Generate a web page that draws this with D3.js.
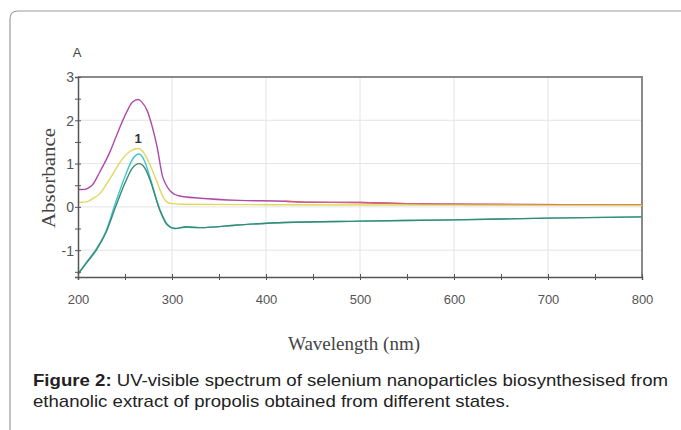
<!DOCTYPE html>
<html>
<head>
<meta charset="utf-8">
<script src="https://cdn.jsdelivr.net/npm/d3@7"></script>
<style>
  body { margin: 0; background: #fff; }
  svg { display: block; }
</style>
</head>
<body>
<svg id="chart" width="681" height="430"></svg>
<script>
// spectra: [wavelength nm, absorbance]
let magenta = [[200,0.4],[205,0.4],[215,0.5],[223,0.8],[234,1.27],[241,1.65],[252,2.2],[258,2.42],[264,2.48],
    [268,2.42],[274,2.2],[279,1.85],[284,1.4],[290,0.7],[294,0.5],[298,0.37],[308,0.25],[330,0.2],[372,0.15],
    [420,0.13],[440,0.11],[500,0.1],[560,0.07],[600,0.06],[800,0.05]];
let red = [[420,0.13],[440,0.11],[500,0.1],[560,0.07],[600,0.06],[800,0.05]];
let yellow = [[200,0.1],[210,0.12],[215,0.18],[223,0.3],[234,0.65],[245,1.04],[255,1.28],[264,1.35],[270,1.25],
    [277,0.95],[284,0.58],[290,0.25],[298,0.08],[310,0.06],[400,0.05],[600,0.04],[800,0.03]];
let cyan = [[200,-1.55],[210,-1.25],[220,-0.95],[230,-0.55],[240,0.1],[250,0.7],[258,1.1],[265,1.22],[271,1.05],
    [277,0.65],[287,-0.05],[295,-0.4],[303,-0.5],[315,-0.47],[330,-0.48],[370,-0.42],[420,-0.36],[500,-0.33],
    [600,-0.3],[700,-0.26],[800,-0.23]];
let green = [[200,-1.55],[210,-1.27],[220,-0.98],[230,-0.58],[240,0.0],[250,0.55],[258,0.9],[265,1.0],[271,0.9],
    [277,0.6],[287,-0.08],[295,-0.42],[303,-0.5],[315,-0.46],[330,-0.48],[370,-0.42],[420,-0.36],[500,-0.33],
    [600,-0.3],[700,-0.26],[800,-0.23]];

let series = [
    {data: magenta, color: "#b04aa8"},
    {data: red, color: "#d8606a"},
    {data: yellow, color: "#e0d860"},
    {data: cyan, color: "#40c4d0"},
    {data: green, color: "#3a8a70"}
];

let xTicks = [200, 300, 400, 500, 600, 700, 800];
let yTicks = [-1, 0, 1, 2, 3];

let svg = d3.select("#chart");

let x = d3.scaleLinear().domain([200, 800]).range([78, 642]);
let y = d3.scaleLinear().domain([-1.62, 3]).range([277, 77]);

// card border
svg.append("path")
    .attr("d", "M10,430 V19 Q10,11 18,11 H681")
    .attr("fill", "none")
    .attr("stroke", "#9a9a9a")
    .attr("stroke-width", 1.2);

// grid
svg.append("g").selectAll("line")
    .data(xTicks.slice(1, -1))
    .enter().append("line")
    .attr("x1", (d)=>x(d)).attr("x2", (d)=>x(d))
    .attr("y1", y(3)).attr("y2", y(-1.62))
    .attr("stroke", "#e4e4e4");

svg.append("g").selectAll("line")
    .data(yTicks.slice(0, -1))
    .enter().append("line")
    .attr("x1", x(200)).attr("x2", x(800))
    .attr("y1", (d)=>y(d)).attr("y2", (d)=>y(d))
    .attr("stroke", "#e4e4e4");

// frame top / right
svg.append("path")
    .attr("d", `M${x(200)},${y(3)} H${x(800)} V${y(-1.62)}`)
    .attr("fill", "none")
    .attr("stroke", "#8a8a8a")
    .attr("stroke-width", 2);

// curves
let line = d3.line()
    .x((d)=>x(d[0]))
    .y((d)=>y(d[1]))
    .curve(d3.curveMonotoneX);

svg.append("g").selectAll("path")
    .data(series)
    .enter().append("path")
    .attr("d", (d)=>line(d.data))
    .attr("fill", "none")
    .attr("stroke", (d)=>d.color)
    .attr("stroke-width", 1.4);

// axes
let xAxis = svg.append("g")
    .attr("transform", `translate(0,${y(-1.62)})`)
    .call(d3.axisBottom(x).tickValues(d3.range(200, 801, 50)).tickSize(3).tickFormat(""));
xAxis.selectAll(".tick line").attr("y1", -3);

xAxis.selectAll(".tick")
    .filter((d)=>xTicks.includes(d))
    .append("text")
    .attr("y", 27)
    .attr("fill", "#555")
    .attr("text-anchor", "middle")
    .style("font", "13px 'Liberation Sans', Arial, sans-serif")
    .text((d)=>d);

let yAxis = svg.append("g")
    .attr("transform", `translate(${x(200)},0)`)
    .call(d3.axisLeft(y).tickValues(d3.range(-1.5, 3.01, 0.5)).tickSize(3).tickFormat(""));
yAxis.selectAll(".tick line").attr("x1", 3);

yAxis.selectAll(".tick")
    .filter((d)=>yTicks.includes(d))
    .append("text")
    .attr("x", -4)
    .attr("dy", "0.35em")
    .attr("fill", "#555")
    .attr("text-anchor", "end")
    .style("font", "14px 'Liberation Sans', Arial, sans-serif")
    .text((d)=>d);

svg.selectAll(".domain").attr("stroke", "#555").attr("stroke-width", 1.5);
svg.selectAll(".tick line").attr("stroke", "#555");

// labels
svg.append("text")
    .attr("x", 77).attr("y", 57)
    .attr("text-anchor", "middle")
    .attr("fill", "#444")
    .style("font", "13px 'Liberation Sans', Arial, sans-serif")
    .text("A");

svg.append("text")
    .attr("x", x(264)).attr("y", y(1.48))
    .attr("text-anchor", "middle")
    .attr("fill", "#333")
    .style("font", "bold 13px 'Liberation Sans', Arial, sans-serif")
    .text("1");

svg.append("text")
    .attr("transform", "translate(55,178) rotate(-90)")
    .attr("text-anchor", "middle")
    .attr("fill", "#444")
    .attr("textLength", 100)
    .attr("lengthAdjust", "spacingAndGlyphs")
    .style("font", "19px 'Liberation Serif', 'Times New Roman', serif")
    .text("Absorbance");

svg.append("text")
    .attr("x", 354).attr("y", 350)
    .attr("text-anchor", "middle")
    .attr("fill", "#444")
    .attr("textLength", 132)
    .attr("lengthAdjust", "spacingAndGlyphs")
    .style("font", "18px 'Liberation Serif', 'Times New Roman', serif")
    .text("Wavelength (nm)");

// caption
let caption = svg.append("g")
    .attr("fill", "#222")
    .style("font", "17px 'Liberation Sans', Arial, sans-serif");
let l1 = caption.append("text").attr("x", 33).attr("y", 386)
    .attr("textLength", 635).attr("lengthAdjust", "spacingAndGlyphs");
l1.append("tspan").style("font-weight", "bold").text("Figure 2:");
l1.append("tspan").text(" UV-visible spectrum of selenium nanoparticles biosynthesised from");
caption.append("text").attr("x", 33).attr("y", 407)
    .attr("textLength", 477).attr("lengthAdjust", "spacingAndGlyphs")
    .text("ethanolic extract of propolis obtained from different states.");
</script>
</body>
</html>
